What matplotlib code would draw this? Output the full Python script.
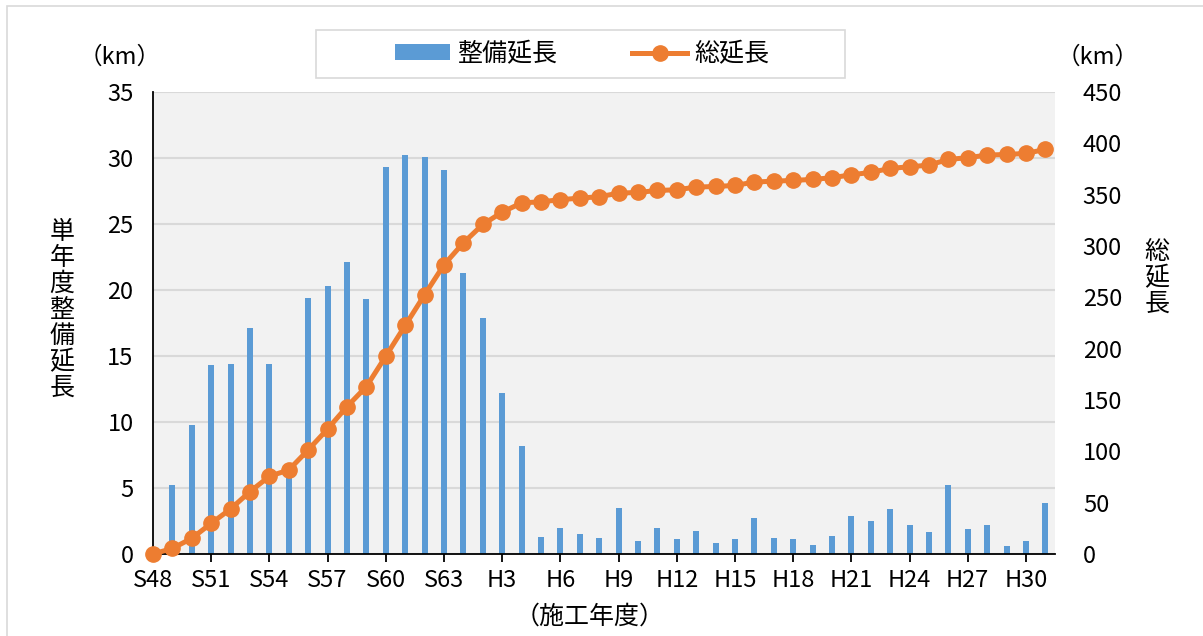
import numpy as np
import matplotlib.pyplot as plt
from matplotlib.patches import Rectangle

plt.rcParams['font.family'] = ['Noto Sans CJK JP', 'DejaVu Sans']

# fiscal years S48..S63, H1..H31
years = ['S%d' % y for y in range(48, 64)] + ['H%d' % y for y in range(1, 32)]

# single-year length (km)
annual = [0.0, 5.2, 9.8, 14.3, 14.4, 17.1, 14.4, 6.0, 19.4, 20.3, 22.1, 19.3,
          29.3, 30.2, 30.05, 29.1,
          21.3, 17.9, 12.2, 8.2, 1.3, 1.95, 1.5, 1.2, 3.45, 1.0, 2.0, 1.1, 1.75,
          0.8, 1.1, 2.75, 1.2, 1.1, 0.7, 1.4, 2.9, 2.5, 3.4, 2.2, 1.65, 5.2,
          1.9, 2.2, 0.6, 0.95, 3.9]

# total length (km)
total = [0, 5.5, 15.3, 29.9, 43.9, 60.8, 75.7, 81.9, 101.4, 121.8, 143.6, 163.1,
         192.7, 222.6, 252.5, 281.7,
         303.1, 321.0, 333.0, 342.0, 343.1, 345.1, 346.7, 348.0, 351.5, 352.2,
         354.1, 354.8, 357.4, 358.0, 359.0, 362.3, 363.2, 363.9, 364.9, 366.5,
         369.4, 371.7, 375.6, 377.2, 378.8, 384.4, 386.0, 388.6, 389.2, 390.2,
         394.1]

blue = '#5B9BD5'
orange = '#ED7D31'

x = np.arange(len(years))

fig = plt.figure(figsize=(12.03, 6.36), dpi=100)
fig.patches.append(Rectangle((0.006, -0.01), 1.1, 1.0, transform=fig.transFigure,
                             fill=False, edgecolor='#D9D9D9', linewidth=1.2))
# legend frame
fig.patches.append(Rectangle((316 / 1203, 1 - 78 / 636), 529 / 1203, 48 / 636,
                             transform=fig.transFigure, facecolor='white',
                             edgecolor='#D9D9D9', linewidth=1.2))

ax = fig.add_axes([0.1272, 0.1289, 0.7498, 0.7264])
ax.set_facecolor('#F2F2F2')
bars = ax.bar(x, annual, width=0.31, color=blue, zorder=2)
ax.set_ylim(0, 35)
ax.set_yticks(np.arange(0, 36, 5))
ax.set_xlim(0, 46.5)
ax.yaxis.grid(True, color='#D9D9D9', linewidth=1.5, zorder=0)
ax.set_axisbelow(True)
ax.set_xticks(x[::3])
ax.set_xticklabels(years[::3])
ax.tick_params(axis='x', length=6, width=1.3, direction='out', labelsize=17, pad=5)
ax.tick_params(axis='y', length=0, labelsize=17, pad=14)
for s in ['top', 'right']:
    ax.spines[s].set_visible(False)
ax.spines['left'].set_linewidth(1.3)
ax.spines['bottom'].set_linewidth(1.3)

ax2 = ax.twinx()
line, = ax2.plot(x, total, color=orange, linewidth=3.6, marker='o',
                 markersize=11, clip_on=False, zorder=3)
ax2.set_ylim(0, 450)
ax2.set_yticks(np.arange(0, 451, 50))
ax2.tick_params(axis='y', length=0, labelsize=17, pad=20)
for s in ['top', 'right', 'left', 'bottom']:
    ax2.spines[s].set_visible(False)

# axis captions
fig.text(120 / 1203, 1 - 57 / 636, '（km）', ha='center', va='center', fontsize=17)
fig.text(1098 / 1203, 1 - 57 / 636, '（km）', ha='center', va='center', fontsize=17)
fig.text(62 / 1203, 1 - 310 / 636, '\n'.join('単年度整備延長'), ha='center',
         va='center', fontsize=18, linespacing=1.0)
fig.text(1157 / 1203, 1 - 278 / 636, '\n'.join('総延長'), ha='center',
         va='center', fontsize=18, linespacing=1.0)
fig.text(590 / 1203, 1 - 617 / 636, '（施工年度）', ha='center', va='center', fontsize=18)

leg = fig.legend([bars, line], ['整備延長', '総延長'], loc='center',
                 bbox_to_anchor=(582 / 1203, 1 - 54 / 636), ncol=2, fontsize=18,
                 frameon=False, handlelength=2.2, handleheight=0.6,
                 columnspacing=3.0, borderpad=0.3, borderaxespad=0,
                 handletextpad=0.3)

fig.savefig('out.png', dpi=100)
